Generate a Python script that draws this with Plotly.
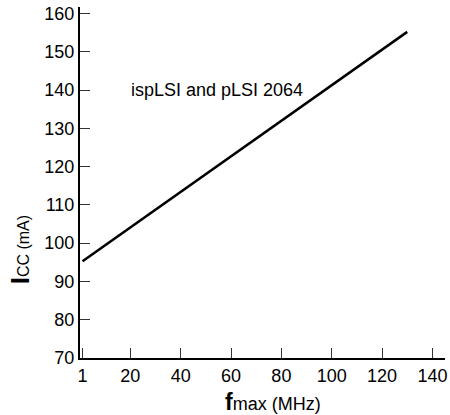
import plotly.graph_objects as go

# Data
fmax_mhz = [1, 130]
icc_ma = [95.3, 155.2]
x_tick_vals = [1, 20, 40, 60, 80, 100, 120, 140]
x_tick_text = ["1", "20", "40", "60", "80", "100", "120", "140"]
y_tick_vals = [70, 80, 90, 100, 110, 120, 130, 140, 150, 160]
label_text = "ispLSI and pLSI 2064"

FONT = "Liberation Sans, Arial, Helvetica, sans-serif"

W, H = 450, 415
L, R, T, B = 80, 3, 7, 57
PW, PH = W - L - R, H - T - B

fig = go.Figure()
fig.add_trace(go.Scatter(
    x=fmax_mhz, y=icc_ma, mode="lines",
    line=dict(color="black", width=2.5),
    showlegend=False, hoverinfo="skip",
))

fig.update_layout(
    width=W, height=H,
    margin=dict(l=L, r=R, t=T, b=B, pad=0),
    paper_bgcolor="white", plot_bgcolor="white",
    font=dict(family=FONT, size=18, color="black"),
    xaxis=dict(
        range=[0, 145], tickvals=x_tick_vals, ticktext=x_tick_text,
        showgrid=False, zeroline=False,
        showline=True, linecolor="black", linewidth=2,
        ticks="inside", ticklen=10, tickwidth=1, tickcolor="#333",
        tickfont=dict(size=18, color="black"),
        ticklabeloverflow="allow",
    ),
    yaxis=dict(
        range=[70, 161.7], tickvals=y_tick_vals,
        showgrid=False, zeroline=False,
        showline=True, linecolor="black", linewidth=2,
        ticks="inside", ticklen=10, tickwidth=1, tickcolor="#333",
        tickfont=dict(size=18, color="black"),
        ticklabeloverflow="allow",
    ),
    annotations=[
        dict(text=label_text, x=19.4, y=140, xref="x", yref="y",
             xanchor="left", yanchor="middle", showarrow=False,
             font=dict(size=18, color="black")),
        dict(text='<span style="font-size:23px"><b>f</b></span>max (MHz)',
             x=(224 - L) / PW, y=(H - B - 402) / PH,
             xref="paper", yref="paper", xanchor="left", yanchor="middle",
             showarrow=False, font=dict(size=18, color="black")),
        dict(text='<span style="font-size:26px"><b>I</b></span><span style="font-size:16px">CC</span><span style="font-size:16px"> (mA)</span>',
             x=(20 - L) / PW, y=(H - B - 250) / PH,
             xref="paper", yref="paper", xanchor="center", yanchor="middle",
             textangle=-90, showarrow=False, font=dict(size=16, color="black")),
    ],
)

fig.write_html(
    "out.html",
    config={"displayModeBar": False},
    post_script="document.body.style.margin='0';document.body.style.overflow='hidden';",
)
